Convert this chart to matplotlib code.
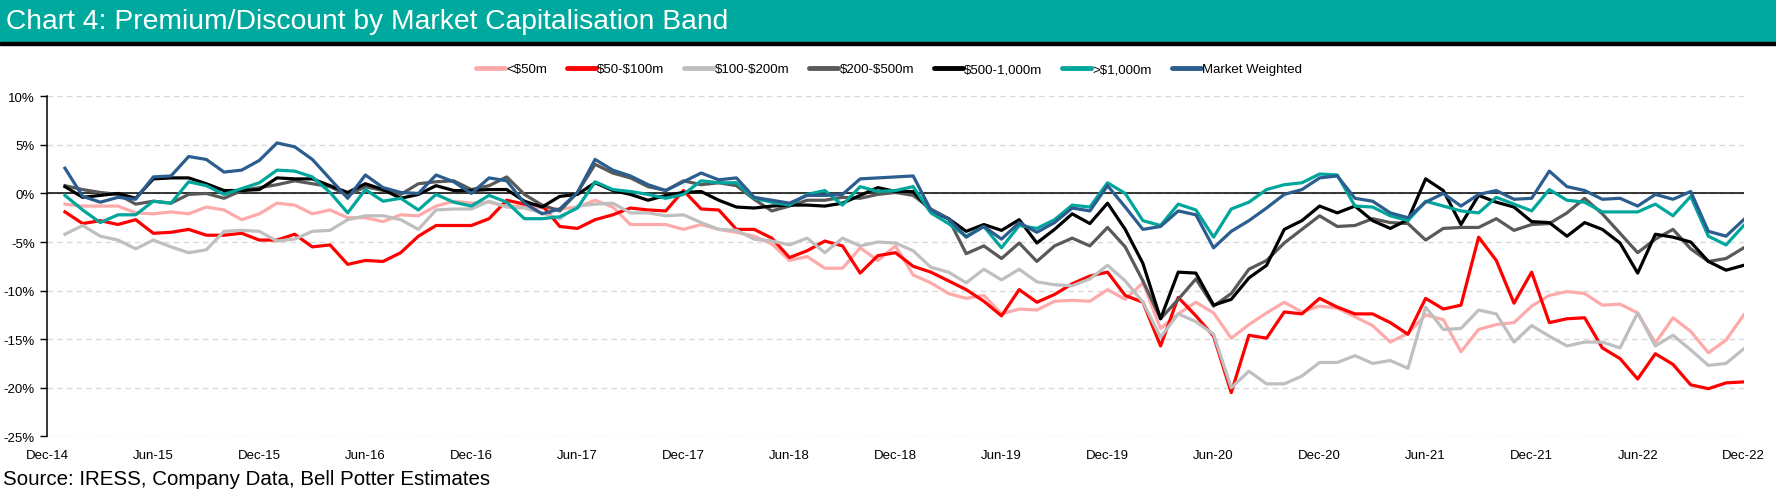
# Chart 4: Premium/Discount by Market Capitalisation Band

import matplotlib.pyplot as plt
from matplotlib.lines import Line2D
from matplotlib.patches import Rectangle
import numpy as np

plt.rcParams['font.family'] = ['Liberation Sans', 'DejaVu Sans']

# 数据：月度溢价/折价（%），2015年1月至2022年12月
under_50m = [-1.1, -1.3, -1.3, -1.3, -2.0, -2.1, -1.9, -2.1, -1.4, -1.7, -2.7, -2.1, -1.0, -1.2, -2.1, -1.7, -2.5, -2.5, -2.9, -2.2, -2.3,
             -1.3, -0.8, -1.0, -0.9, -1.3, -1.3, -1.5, -1.6, -1.4, -0.7, -1.4, -3.2, -3.2, -3.2, -3.7, -3.2, -3.7, -4.0, -4.4,
             -5.2, -6.9, -6.5, -7.7, -7.7, -5.6, -6.9, -5.4, -8.4, -9.2, -10.3, -10.8, -10.5, -12.4, -11.9, -12.0, -11.1, -11.0, -11.1, -9.9,
             -10.9, -9.2, -13.9, -12.4, -11.2, -12.3, -14.9, -13.5, -12.3, -11.2, -12.2, -11.6, -11.8, -12.7, -13.6, -15.3, -14.4, -12.5, -13.0, -16.3,
             -14.0, -13.5, -13.3, -11.6, -10.5, -10.1, -10.3, -11.5, -11.4, -12.3, -15.4, -12.8, -14.2, -16.4, -15.1, -12.5]

m50_100 = [-1.9, -3.1, -2.8, -3.2, -2.7, -4.1, -4.0, -3.7, -4.3, -4.3, -4.1, -4.8, -4.8, -4.2, -5.5, -5.3, -7.3, -6.9, -7.0, -6.1, -4.4,
           -3.3, -3.3, -3.3, -2.6, -0.7, -1.1, -1.2, -3.4, -3.6, -2.7, -2.2, -1.5, -1.7, -1.8, 0.3, -1.6, -1.7, -3.7, -3.7,
           -4.6, -6.6, -5.9, -4.9, -5.4, -8.2, -6.4, -6.1, -7.5, -8.1, -9.0, -9.9, -11.1, -12.6, -9.9, -11.2, -10.4, -9.3, -8.5, -8.1,
           -10.5, -11.2, -15.7, -10.7, -12.6, -14.7, -20.5, -14.6, -14.9, -12.2, -12.4, -10.8, -11.7, -12.4, -12.4, -13.3, -14.5, -10.8, -11.9, -11.5,
           -4.5, -6.9, -11.3, -8.1, -13.3, -12.9, -12.8, -15.9, -17.0, -19.1, -16.5, -17.6, -19.7, -20.1, -19.5, -19.4]

m100_200 = [-4.2, -3.3, -4.4, -4.8, -5.7, -4.8, -5.5, -6.1, -5.8, -3.9, -3.8, -3.9, -4.9, -4.7, -3.9, -3.8, -2.7, -2.3, -2.3, -2.7, -3.7,
            -1.7, -1.6, -1.6, -0.8, -1.4, -1.5, -2.0, -2.6, -1.3, -1.1, -1.0, -2.0, -2.0, -2.3, -2.2, -3.0, -3.7, -3.8, -4.7,
            -4.9, -5.3, -4.6, -6.1, -4.6, -5.4, -5.0, -5.1, -5.9, -7.6, -8.1, -9.2, -7.8, -8.9, -7.8, -9.1, -9.4, -9.5, -8.8, -7.4,
            -9.0, -11.2, -14.8, -12.4, -13.2, -14.5, -20.0, -18.3, -19.6, -19.6, -18.8, -17.4, -17.4, -16.7, -17.5, -17.2, -18.0, -11.7, -14.0, -13.9,
            -12.0, -12.4, -15.3, -13.6, -14.7, -15.7, -15.3, -15.3, -15.9, -12.3, -15.7, -14.6, -16.1, -17.7, -17.5, -16.0]

m200_500 = [0.8, 0.4, 0.1, -0.1, -1.1, -0.8, -1.0, -0.1, 0.0, -0.5, 0.3, 0.6, 0.9, 1.3, 1.0, 0.7, -0.2, 0.7, 0.3, -0.1, 1.0,
            1.2, 1.3, 0.4, 0.8, 1.7, -0.1, -1.2, -1.8, 0.1, 3.0, 2.1, 1.6, 0.7, 0.3, 1.3, 0.9, 1.1, 0.8, -0.6,
            -1.8, -1.3, -0.7, -0.7, -0.4, -0.5, -0.1, 0.1, -0.2, -1.6, -2.6, -6.2, -5.4, -6.7, -5.1, -7.0, -5.4, -4.6, -5.4, -3.5,
            -5.5, -9.0, -12.9, -10.9, -8.8, -11.6, -10.3, -7.8, -6.9, -5.1, -3.7, -2.3, -3.4, -3.3, -2.6, -3.0, -3.1, -4.8, -3.6, -3.5,
            -3.5, -2.6, -3.8, -3.2, -3.1, -2.0, -0.5, -2.1, -4.1, -6.1, -4.7, -3.7, -5.7, -7.0, -6.7, -5.6]

m500_1000 = [0.7, -0.4, -0.2, 0.0, -0.5, 1.5, 1.6, 1.6, 1.0, 0.3, 0.3, 0.4, 1.6, 1.5, 1.5, 0.8, 0.1, 1.0, 0.4, -0.5, -0.1,
             0.8, 0.3, 0.3, 0.4, 0.4, -0.8, -1.4, -0.3, -0.1, 1.1, 0.3, -0.1, -0.7, -0.2, 0.1, 0.2, -0.7, -1.4, -1.5,
             -1.3, -1.2, -1.2, -1.3, -1.0, -0.2, 0.6, 0.2, 0.2, -1.8, -2.6, -3.9, -3.2, -3.8, -2.7, -5.1, -3.7, -2.1, -3.1, -1.0,
             -3.7, -7.2, -12.9, -8.1, -8.2, -11.5, -10.9, -8.7, -7.4, -3.7, -2.8, -1.3, -2.0, -1.3, -2.8, -3.6, -2.7, 1.5, 0.3, -3.2,
             -0.2, -0.9, -1.4, -2.9, -3.0, -4.4, -3.0, -3.7, -5.1, -8.2, -4.2, -4.5, -5.0, -7.0, -7.9, -7.4]

over_1000m = [-0.2, -1.7, -3.0, -2.2, -2.2, -0.8, -1.0, 1.2, 0.8, -0.1, 0.5, 1.1, 2.4, 2.3, 1.7, 0.1, -2.0, 0.4, -0.8, -0.5, -1.7,
              -0.1, -0.9, -1.3, -0.2, -0.9, -2.6, -2.6, -2.4, -1.5, 1.2, 0.4, 0.2, -0.1, -0.5, -0.1, 1.3, 1.1, 1.1, -0.5,
              -0.9, -1.2, -0.1, 0.3, -1.2, 0.7, 0.2, 0.3, 0.7, -2.0, -3.1, -4.4, -3.4, -5.6, -3.3, -3.6, -2.7, -1.2, -1.4, 1.1,
              0.0, -2.8, -3.3, -1.1, -1.7, -4.5, -1.6, -0.9, 0.4, 0.9, 1.1, 2.0, 1.9, -1.3, -1.4, -2.3, -2.8, -0.8, -1.3, -1.8,
              -2.0, -0.4, -1.1, -1.8, 0.4, -0.7, -0.9, -1.9, -1.9, -1.9, -1.1, -2.3, -0.3, -4.4, -5.3, -3.3]

market_weighted = [2.6, -0.3, -0.9, -0.4, -0.6, 1.7, 1.8, 3.8, 3.5, 2.2, 2.4, 3.4, 5.2, 4.8, 3.5, 1.5, -0.5, 1.9, 0.6, 0.1, 0.0,
                   1.9, 1.2, 0.0, 1.6, 1.3, -1.0, -2.1, -1.6, 0.1, 3.5, 2.4, 1.8, 0.9, 0.3, 1.2, 2.1, 1.4, 1.6, -0.4,
                   -0.7, -1.0, -0.2, -0.2, -0.1, 1.5, 1.6, 1.7, 1.8, -1.7, -2.6, -4.5, -3.4, -4.7, -3.0, -4.0, -3.0, -1.5, -1.8, 0.8,
                   -1.4, -3.7, -3.4, -1.8, -2.2, -5.6, -3.9, -2.8, -1.5, -0.1, 0.4, 1.6, 1.8, -0.5, -0.8, -2.0, -2.5, -0.9, 0.0, -1.3,
                   -0.1, 0.3, -0.6, -0.5, 2.3, 0.7, 0.3, -0.6, -0.5, -1.3, -0.1, -0.6, 0.2, -3.9, -4.4, -2.7]

series_names = ['<$50m', '$50-$100m', '$100-$200m', '$200-$500m', '$500-1,000m', '>$1,000m', 'Market Weighted']
series_values = [under_50m, m50_100, m100_200, m200_500, m500_1000, over_1000m, market_weighted]
colors = ['#FFAAAA', '#FF0000', '#BFBFBF', '#595959', '#000000', '#00A69C', '#2B5D8E']

tick_labels = ['Dec-14', 'Jun-15', 'Dec-15', 'Jun-16', 'Dec-16', 'Jun-17', 'Dec-17', 'Jun-18', 'Dec-18',
               'Jun-19', 'Dec-19', 'Jun-20', 'Dec-20', 'Jun-21', 'Dec-21', 'Jun-22', 'Dec-22']
y_ticks = [10, 5, 0, -5, -10, -15, -20, -25]

W, H = 1776, 502
fig = plt.figure(figsize=(W / 100, H / 100), dpi=100)

# 标题栏
fig.patches.append(Rectangle((0, 1 - 43 / H), 1, 43 / H, transform=fig.transFigure, color='#00A99D', zorder=0))
fig.patches.append(Rectangle((0, 1 - 46 / H), 1, 3 / H, transform=fig.transFigure, color='black', zorder=0))
fig.text(6 / W, 1 - 22 / H, 'Chart 4: Premium/Discount by Market Capitalisation Band',
         color='white', fontsize=20.3, va='center', ha='left')

ax = fig.add_axes([47.3 / W, 1 - 437.3 / H, (1743.7 - 47.3) / W, 340 / H])

months = np.arange(1, len(market_weighted) + 1)
for y in y_ticks:
    ax.axhline(y, color='#D9D9D9', lw=1, ls=(0, (4, 3)), zorder=1)
ax.axhline(0, color='black', lw=1.1, zorder=2)

for name, vals, c in zip(series_names, series_values, colors):
    ax.plot(months, vals, color=c, lw=2.3, zorder=3)

ax.set_xlim(0, 96)
ax.set_ylim(-25, 10)
ax.set_xticks(np.arange(0, 97, 6))
ax.set_xticklabels(tick_labels)
ax.set_yticks(y_ticks)
ax.set_yticklabels([f'{v}%' for v in y_ticks])
ax.tick_params(axis='x', length=0, pad=9, labelsize=9.5)
ax.tick_params(axis='y', direction='out', length=5, width=1, pad=4, labelsize=9.5)
for s in ['top', 'right', 'bottom']:
    ax.spines[s].set_visible(False)
ax.spines['left'].set_linewidth(1.1)

# 图例（$ 需要转义，避免被当作数学公式）
handles = [Line2D([], [], color=c, lw=3.5, solid_capstyle='round') for c in colors]
labels = [n.replace('$', r'\$') for n in series_names]
fig.legend(handles, labels, loc='center', bbox_to_anchor=(889 / W, 1 - 70 / H), ncol=7,
           frameon=False, fontsize=9.5, handlelength=2.2,
           handletextpad=0.1, columnspacing=1.5)

fig.text(3 / W, 1 - 480 / H, 'Source: IRESS, Company Data, Bell Potter Estimates',
         fontsize=14.75, va='center', ha='left')

fig.savefig('out.png', dpi=100)
